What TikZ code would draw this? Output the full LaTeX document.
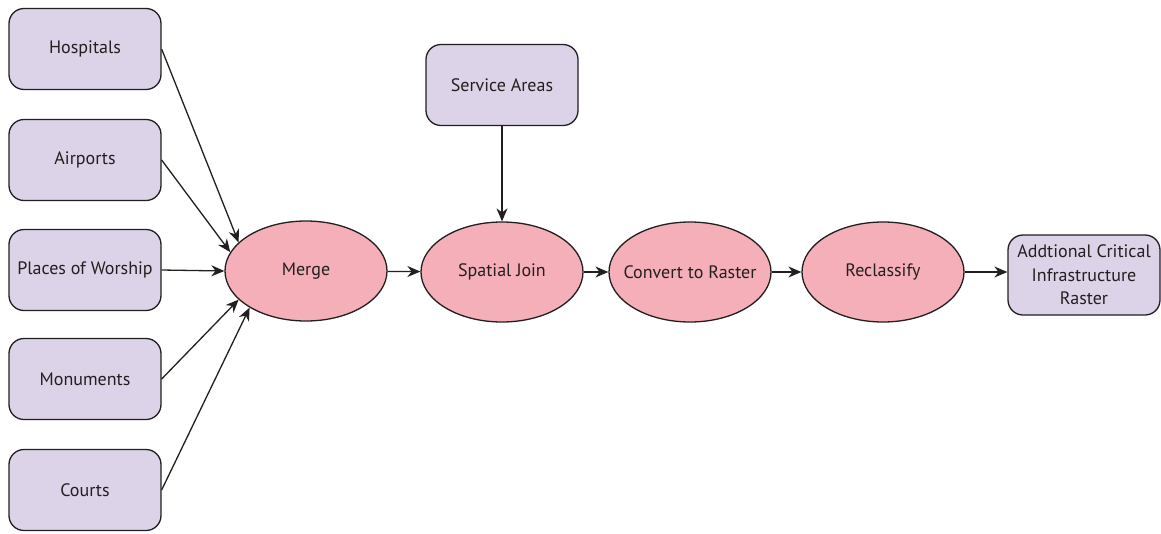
\documentclass[tikz,border=0pt]{standalone}
\usepackage{fontspec}
\setmainfont{PT Sans}
\usetikzlibrary{shapes.geometric,arrows.meta}
\definecolor{boxfill}{HTML}{DCD3E8}
\definecolor{opfill}{HTML}{F4AFB8}
\definecolor{ink}{HTML}{231F20}
% label that does not widen the ellipse around it
\newcommand{\oplabel}[1]{\makebox[0pt][c]{#1}}
\tikzset{
  x=1pt, y=-1pt,
  databox/.style={draw=ink, fill=boxfill, rounded corners=15pt, line width=1.3pt,
    minimum width=152pt, minimum height=81pt, inner sep=1pt, align=center,
    text=ink, font=\fontsize{18}{23.5}\selectfont},
  opnode/.style={draw=ink, fill=opfill, ellipse, line width=1.3pt, inner sep=0pt,
    minimum width=162pt, minimum height=100pt,
    text=ink, font=\fontsize{18}{23.5}\selectfont},
  flow/.style={draw=ink, line width=1.3pt, -{Stealth[length=13pt,width=11pt]}}
}
\begin{document}
\begin{tikzpicture}
\useasboundingbox (0,0) rectangle (1161,533);
\fill[white] (0,0) rectangle (1161,533);

% input layers
\node[databox] (hosp) at (85,49)  {Hospitals};
\node[databox] (air)  at (85,160) {Airports};
\node[databox] (wor)  at (85,270) {Places of Worship};
\node[databox] (mon)  at (85,379) {Monuments};
\node[databox] (crt)  at (85,490) {Courts};
\node[databox] (serv) at (502,85) {Service Areas};

% processing steps
\node[opnode] (merge) at (306,271) {\oplabel{Merge}};
\node[opnode] (join)  at (502,272) {\oplabel{Spatial Join}};
\node[opnode] (conv)  at (690,272) {\oplabel{Convert to Raster}};
\node[opnode] (recl)  at (883,272) {\oplabel{Reclassify}};

% output
\node[databox, minimum height=80pt] (out) at (1084,275)
  {Addtional Critical\\Infrastructure\\Raster};

% connectors
\draw[flow] (hosp.east) -- (merge.157.9);
\draw[flow] (air.east)  -- (merge.166.1);
\draw[flow] (wor.east)  -- (merge.180);
\draw[flow] (mon.east)  -- (merge.203.7);
\draw[flow] (crt.east)  -- (merge.213.9);
\draw[flow] (merge) -- (join);
\draw[flow] (serv) -- (join);
\draw[flow] (join) -- (conv);
\draw[flow] (conv) -- (recl);
\draw[flow] (recl.east) -- (out.west |- recl.east);
\end{tikzpicture}
\end{document}
